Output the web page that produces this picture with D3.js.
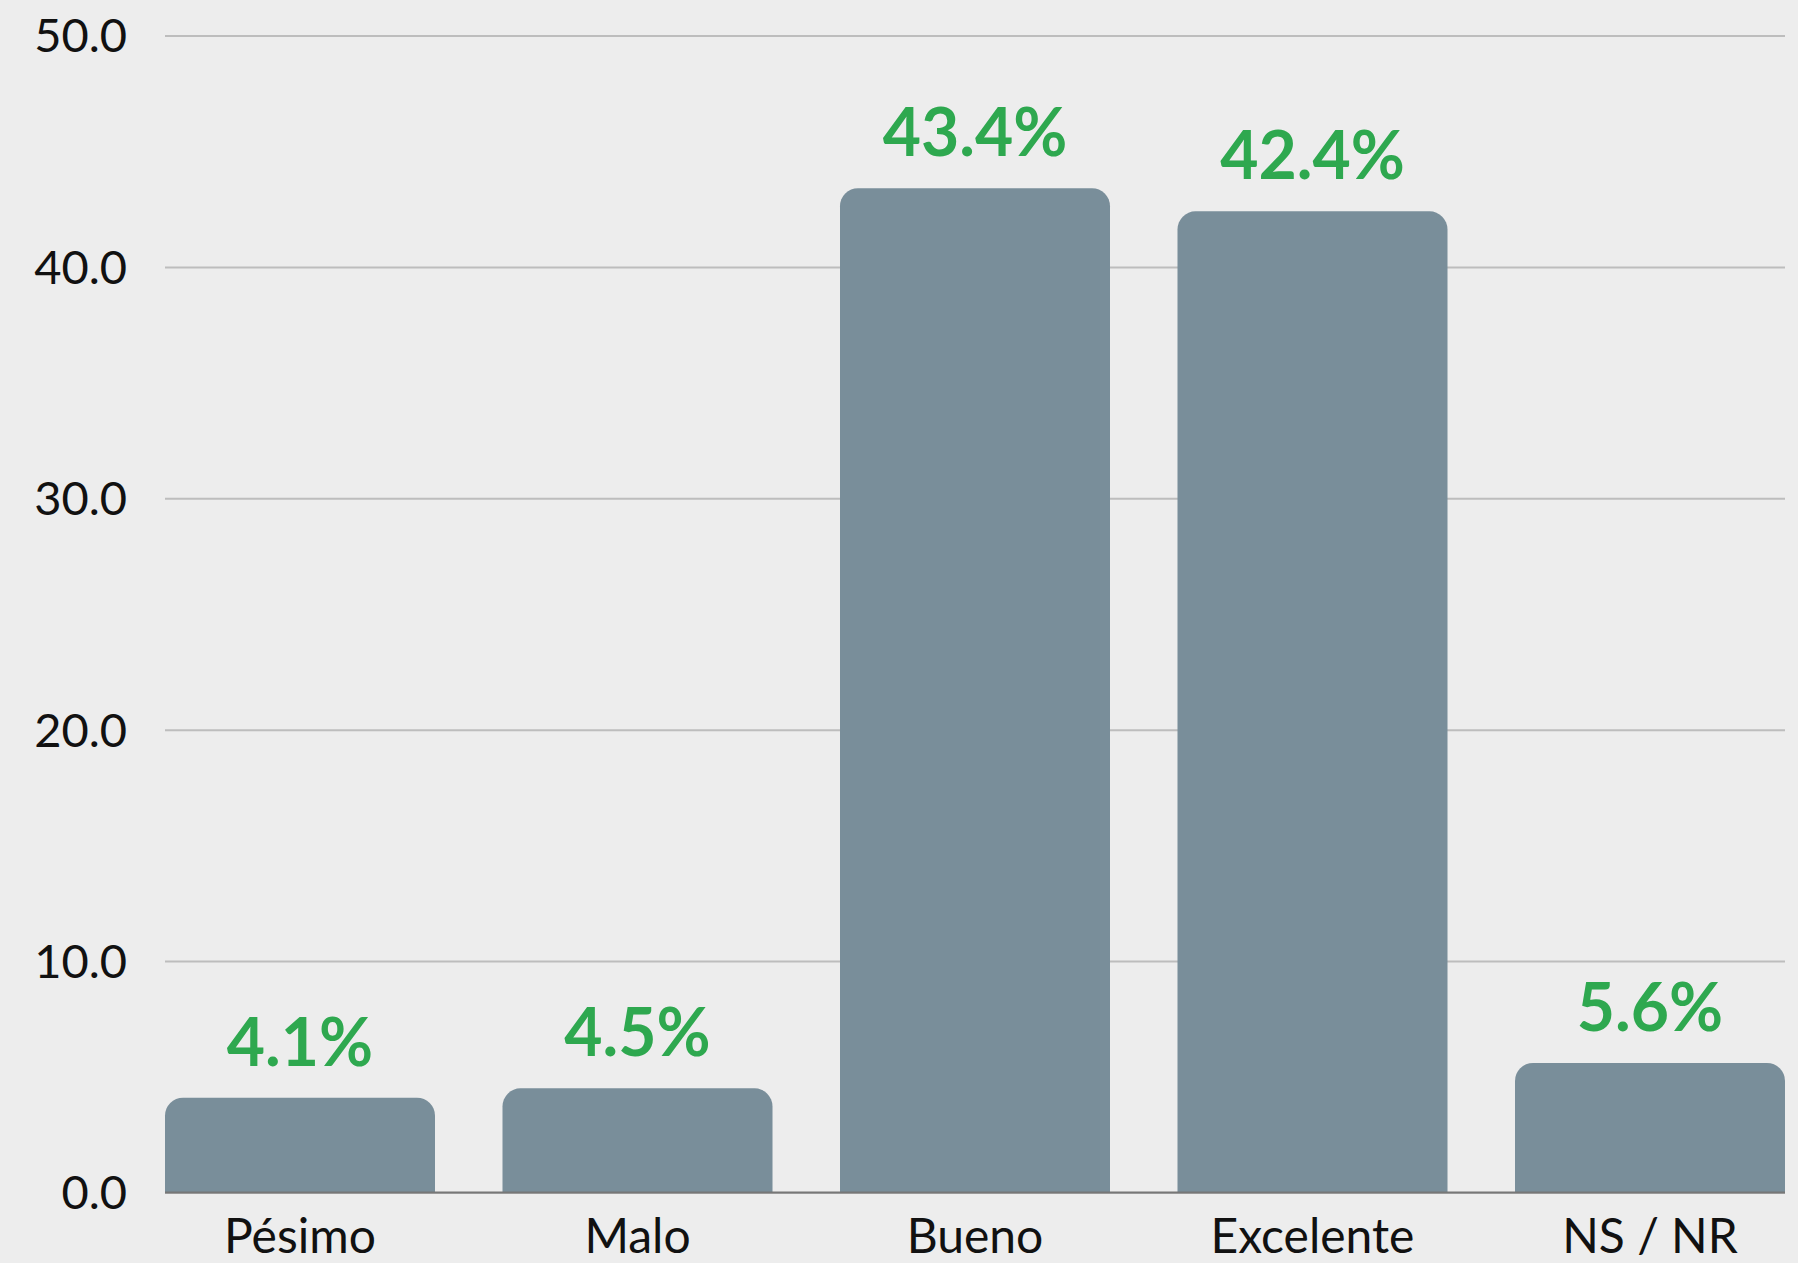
<!DOCTYPE html>
<html>
<head>
<meta charset="utf-8">
<script src="https://cdn.jsdelivr.net/npm/d3@7"></script>
<style>
  html, body { margin:0; padding:0; background:#ededed; }
  svg { display:block; font-family: Lato, "Open Sans", sans-serif; }
</style>
</head>
<body>
<div id="chart"></div>
<script>
const categories = ["Pésimo", "Malo", "Bueno", "Excelente", "NS / NR"];
const values = [4.1, 4.5, 43.4, 42.4, 5.6];
const yTicks = [0, 10, 20, 30, 40, 50];

const W = 1798, H = 1263;
const m = { top: 35.5, right: 13, bottom: 70.5, left: 165 };

const svg = d3.select("#chart").append("svg")
  .attr("width", W).attr("height", H);

svg.append("rect").attr("width", W).attr("height", H).attr("fill", "#ededed");

const x = d3.scaleBand()
  .domain(categories)
  .range([m.left, W - m.right])
  .paddingInner(0.2)
  .paddingOuter(0);

const y = d3.scaleLinear()
  .domain([0, 50])
  .range([H - m.bottom, m.top]);

// grid lines + y labels
const yAxis = d3.axisLeft(y)
  .tickValues(yTicks)
  .tickFormat(d3.format(".1f"))
  .tickSize(-(W - m.right - m.left))
  .tickPadding(38);

svg.append("g")
  .attr("transform", "translate(" + m.left + ",0)")
  .call(yAxis)
  .call(g => {
    g.attr("font-family", null).attr("font-size", null);
    g.select(".domain").remove();
    g.selectAll(".tick line").attr("stroke", "#bdbdbd").attr("stroke-width", 2);
    g.selectAll(".tick text")
      .attr("fill", "#111").attr("font-size", 47).attr("dy", "0.35em");
  });

// bars with rounded top corners
const r = 18;
function barPath(d, i) {
  const x0 = x(categories[i]), x1 = x0 + x.bandwidth();
  const y0 = y(0), y1 = y(d);
  return "M" + x0 + "," + y0 +
    "V" + (y1 + r) +
    "A" + r + "," + r + " 0 0 1 " + (x0 + r) + "," + y1 +
    "H" + (x1 - r) +
    "A" + r + "," + r + " 0 0 1 " + x1 + "," + (y1 + r) +
    "V" + y0 + "Z";
}

svg.append("g").selectAll("path").data(values).enter()
  .append("path")
  .attr("d", barPath)
  .attr("fill", "#798e9a");

// baseline
svg.append("line")
  .attr("x1", m.left).attr("x2", W - m.right)
  .attr("y1", y(0)).attr("y2", y(0))
  .attr("stroke", "#777").attr("stroke-width", 2);

// value labels
svg.append("g").selectAll("text").data(values).enter()
  .append("text")
  .attr("x", (d, i) => x(categories[i]) + x.bandwidth() / 2)
  .attr("y", d => y(d) - 32)
  .attr("text-anchor", "middle")
  .attr("font-size", 66)
  .attr("font-weight", "bold")
  .attr("fill", "#2ea84f")
  .text(d => d.toFixed(1) + "%");

// category labels
svg.append("g").selectAll("text").data(categories).enter()
  .append("text")
  .attr("x", d => x(d) + x.bandwidth() / 2)
  .attr("y", 1253)
  .attr("text-anchor", "middle")
  .attr("font-size", 48)
  .attr("fill", "#111")
  .text(d => d);
</script>
</body>
</html>
